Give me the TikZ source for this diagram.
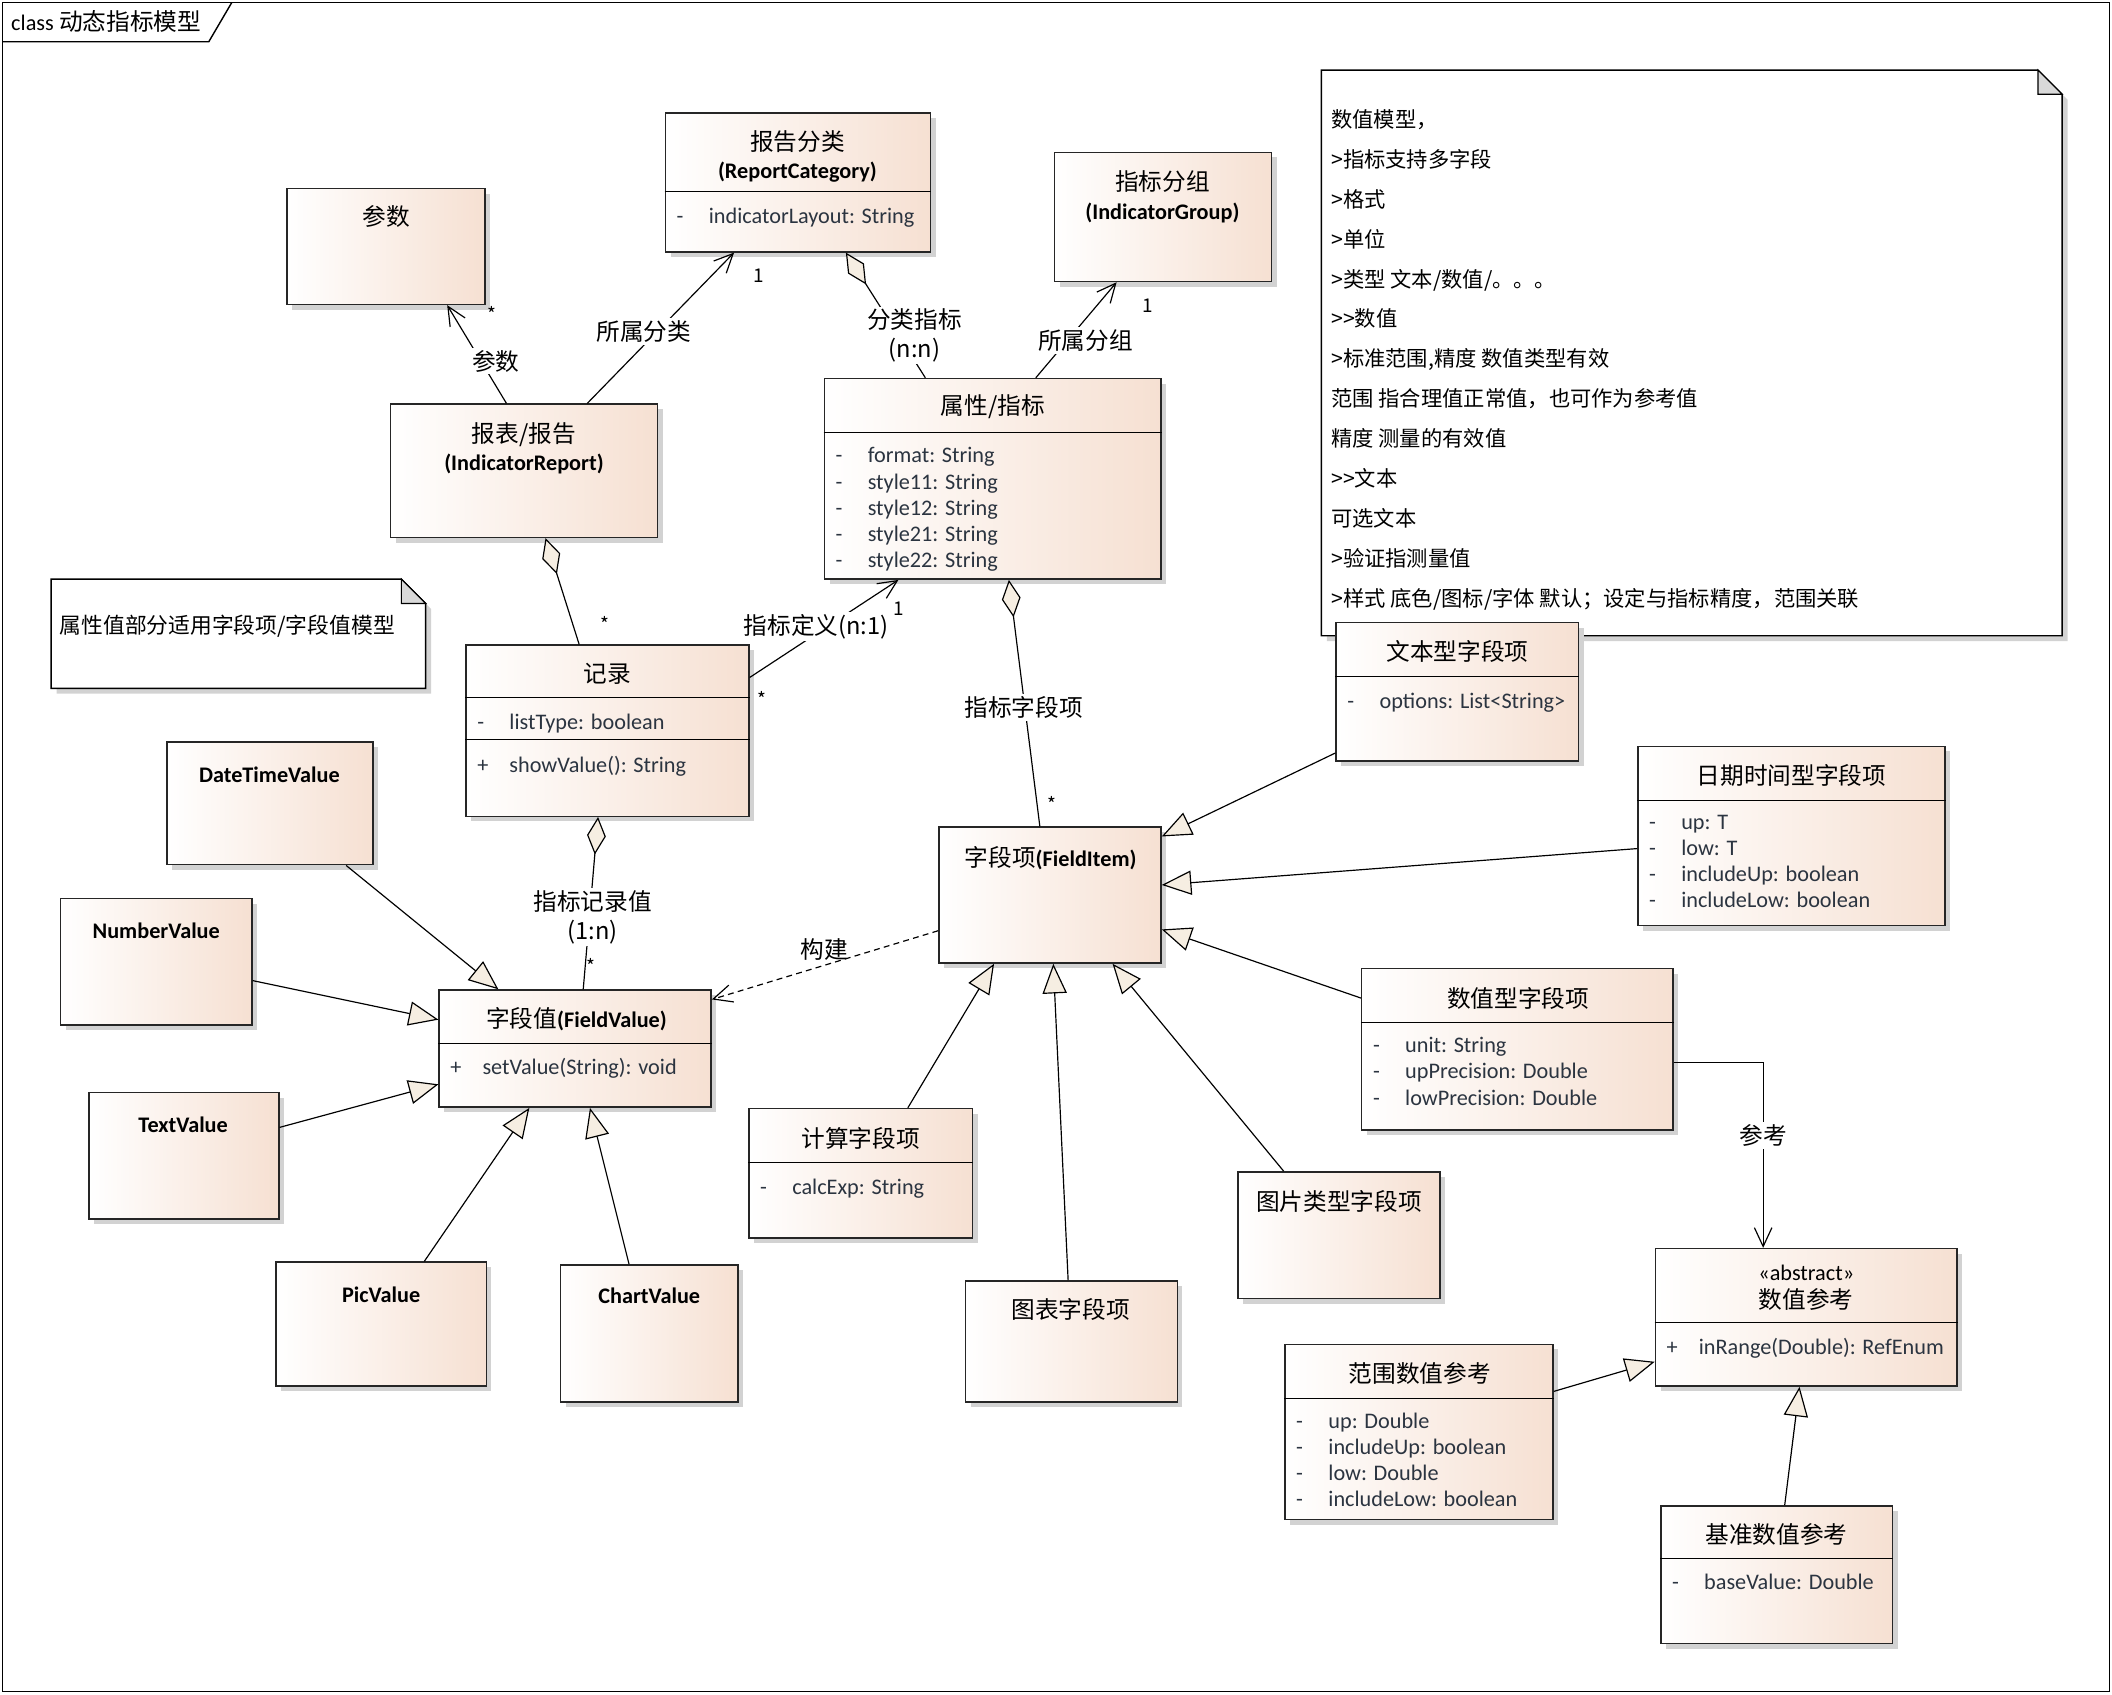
\documentclass[tikz,border=0pt]{standalone}
\usepackage{fontspec}
\setmainfont{Noto Sans CJK SC}
\newfontfamily\lat{Carlito}
\usetikzlibrary{
  arrows.meta,
  fit,
  shadows
}
\definecolor{boxpeach}{HTML}{F6E0D2}
\definecolor{tipcream}{HTML}{F6EEE2}
\definecolor{attrink}{HTML}{2B3440}
\definecolor{foldgray}{HTML}{D9D9D9}
\definecolor{shadowgray}{HTML}{D2D2D2}
\tikzset{
  class box/.style={draw=black!85,line width=.6pt,inner sep=0pt,
    left color=white,right color=boxpeach,
    drop shadow={shadow xshift=2.2pt,shadow yshift=-2.2pt,fill=shadowgray,opacity=1}},
  class title/.style={font=\fontsize{10}{12}\selectfont,align=center,inner sep=0pt},
  attr list/.style={font=\lat\fontsize{9.4}{11}\selectfont,text=attrink,
    align=left,anchor=north west,inner sep=0pt},
  link label/.style={font=\fontsize{10}{12}\selectfont,fill=white,inner sep=1pt,align=center},
  mult/.style={font=\fontsize{8}{9}\selectfont,inner sep=0pt},
  note text/.style={font=\fontsize{9}{16.85}\selectfont,align=left,inner sep=0pt},
  assoc/.style={-{Straight Barb[length=.28cm,width=.26cm]},line width=.5pt},
  aggreg/.style={{Diamond[length=.56cm,width=.28cm,fill=tipcream]}-,line width=.5pt},
  inherit/.style={-{Triangle[length=.44cm,width=.36cm,fill=tipcream]},line width=.5pt},
  depend/.style={-{Straight Barb[length=.28cm,width=.26cm]},
    dash pattern=on 2.5pt off 1.8pt,line width=.5pt}
}
\newcommand\vis[1]{\makebox[13.6pt][l]{#1}}
\newcommand\cls[1]{{\lat\bfseries\fontsize{9.4}{12}\selectfont #1}}

\begin{document}
\begin{tikzpicture}[x=0.02cm,y=-0.02cm]
  \useasboundingbox (0,0) rectangle (1568,1258);
  \draw[line width=.6pt] (2,2) rectangle (1566,1256);
  \draw[line width=.6pt] (2,31) -- (155,31) -- (172,2);
  \node[anchor=west,inner sep=0pt,font=\fontsize{10}{12}\selectfont] (frametitle) at (8,16)
    {{\lat\fontsize{9.4}{11}\selectfont class} 动态指标模型};

  % notes
  \fill[shadowgray] (985,56) -- (1517,56) -- (1535,74) -- (1535,476) -- (985,476) -- cycle;
  \draw[fill=white,line width=.6pt] (981,52) -- (1513,52) -- (1531,70) -- (1531,472) -- (981,472) -- cycle;
  \draw[fill=foldgray,line width=.5pt] (1513,52) -- (1513,70) -- (1531,70) -- cycle;
  \node[note text,anchor=north west] (modelnote) at (988,81) {数值模型，\\
    >指标支持多字段\\>格式\\>单位\\>类型 文本/数值/。。。\\>\kern0pt>数值\\
    >标准范围,精度 数值类型有效\\范围 指合理值正常值，也可作为参考值\\
    精度 测量的有效值\\>\kern0pt>文本\\可选文本\\>验证指测量值\\
    >样式 底色/图标/字体 默认；设定与指标精度，范围关联};

  \fill[shadowgray] (42,434) -- (302,434) -- (320,452) -- (320,515) -- (42,515) -- cycle;
  \draw[fill=white,line width=.6pt] (38,430) -- (298,430) -- (316,448) -- (316,511) -- (38,511) -- cycle;
  \draw[fill=foldgray,line width=.5pt] (298,430) -- (298,448) -- (316,448) -- cycle;
  \node[note text,anchor=west,font=\fontsize{9.2}{11}\selectfont] (valuenote) at (44,465)
    {属性值部分适用字段项/字段值模型};

  % classes
  \node[class box,fit={(213,140) (360,226)}] (canshu) {};
  \node[class title] (canshu-t) at (287,161) {参数};

  \node[class box,fit={(494,84) (691,187)}] (reportcat) {};
  \node[class title] (reportcat-t) at (592,116) {报告分类\\\cls{(ReportCategory)}};
  \draw[line width=.5pt] (reportcat.west |- 0,142) -- (reportcat.east |- 0,142);
  \node[attr list] (reportcat-a) at (502,154) {\vis{-}indicatorLayout: String};

  \node[class box,fit={(783,113) (944,209)}] (group) {};
  \node[class title] (group-t) at (863,146) {指标分组\\\cls{(IndicatorGroup)}};

  \node[class box,fit={(612,281) (862,430)}] (indicator) {};
  \node[class title] (indicator-t) at (737,302) {属性/指标};
  \draw[line width=.5pt] (indicator.west |- 0,321) -- (indicator.east |- 0,321);
  \node[attr list] (indicator-a) at (620,332) {\vis{-}format: String\\\vis{-}style11: String\\
    \vis{-}style12: String\\\vis{-}style21: String\\\vis{-}style22: String};

  \node[class box,fit={(290,300) (488,399)}] (report) {};
  \node[class title] (report-t) at (389,333) {报表/报告\\\cls{(IndicatorReport)}};

  \node[class box,fit={(346,479) (556,606)}] (record) {};
  \node[class title] (record-t) at (451,500) {记录};
  \draw[line width=.5pt] (record.west |- 0,518) -- (record.east |- 0,518);
  \draw[line width=.5pt] (record.west |- 0,549) -- (record.east |- 0,549);
  \node[attr list] (record-a) at (354,530) {\vis{-}listType: boolean};
  \node[attr list] (record-o) at (354,561) {\vis{+}showValue(): String};

  \node[class box,fit={(124,551) (277,642)}] (datetimeval) {};
  \node[class title] (datetimeval-t) at (200,575) {\cls{DateTimeValue}};
  \node[class box,fit={(45,667) (187,761)}] (numberval) {};
  \node[class title] (numberval-t) at (116,691) {\cls{NumberValue}};
  \node[class box,fit={(66,811) (207,905)}] (textval) {};
  \node[class title] (textval-t) at (136,835) {\cls{TextValue}};
  \node[class box,fit={(205,937) (361,1029)}] (picval) {};
  \node[class title] (picval-t) at (283,961) {\cls{PicValue}};
  \node[class box,fit={(416,939) (548,1041)}] (chartval) {};
  \node[class title] (chartval-t) at (482,962) {\cls{ChartValue}};

  \node[class box,fit={(326,735) (528,822)}] (fieldvalue) {};
  \node[class title] (fieldvalue-t) at (428,757) {字段值\cls{(FieldValue)}};
  \draw[line width=.5pt] (fieldvalue.west |- 0,775) -- (fieldvalue.east |- 0,775);
  \node[attr list] (fieldvalue-o) at (334,785) {\vis{+}setValue(String): void};

  \node[class box,fit={(697,614) (862,715)}] (fielditem) {};
  \node[class title] (fielditem-t) at (780,637) {字段项\cls{(FieldItem)}};

  \node[class box,fit={(556,823) (722,919)}] (calcitem) {};
  \node[class title] (calcitem-t) at (639,845) {计算字段项};
  \draw[line width=.5pt] (calcitem.west |- 0,863) -- (calcitem.east |- 0,863);
  \node[attr list] (calcitem-a) at (564,875) {\vis{-}calcExp: String};

  \node[class box,fit={(717,951) (874,1041)}] (chartitem) {};
  \node[class title] (chartitem-t) at (795,972) {图表字段项};
  \node[class box,fit={(919,870) (1069,964)}] (picitem) {};
  \node[class title] (picitem-t) at (994,892) {图片类型字段项};

  \node[class box,fit={(992,462) (1172,565)}] (textitem) {};
  \node[class title] (textitem-t) at (1082,484) {文本型字段项};
  \draw[line width=.5pt] (textitem.west |- 0,502) -- (textitem.east |- 0,502);
  \node[attr list] (textitem-a) at (1000,514) {\vis{-}options: List<String>};

  \node[class box,fit={(1216,554) (1444,687)}] (dtitem) {};
  \node[class title] (dtitem-t) at (1330,576) {日期时间型字段项};
  \draw[line width=.5pt] (dtitem.west |- 0,594) -- (dtitem.east |- 0,594);
  \node[attr list] (dtitem-a) at (1224,605) {\vis{-}up: T\\\vis{-}low: T\\
    \vis{-}includeUp: boolean\\\vis{-}includeLow: boolean};

  \node[class box,fit={(1011,719) (1242,839)}] (numitem) {};
  \node[class title] (numitem-t) at (1127,741) {数值型字段项};
  \draw[line width=.5pt] (numitem.west |- 0,759) -- (numitem.east |- 0,759);
  \node[attr list] (numitem-a) at (1019,770) {\vis{-}unit: String\\
    \vis{-}upPrecision: Double\\\vis{-}lowPrecision: Double};

  \node[class box,fit={(1229,927) (1453,1029)}] (numref) {};
  \node[class title] (numref-t) at (1341,956) {{\lat\fontsize{9.4}{11}\selectfont «abstract»}\\数值参考};
  \draw[line width=.5pt] (numref.west |- 0,982) -- (numref.east |- 0,982);
  \node[attr list] (numref-o) at (1237,993) {\vis{+}inRange(Double): RefEnum};

  \node[class box,fit={(954,998) (1153,1128)}] (rangeref) {};
  \node[class title] (rangeref-t) at (1054,1020) {范围数值参考};
  \draw[line width=.5pt] (rangeref.west |- 0,1038) -- (rangeref.east |- 0,1038);
  \node[attr list] (rangeref-a) at (962,1049) {\vis{-}up: Double\\\vis{-}includeUp: boolean\\
    \vis{-}low: Double\\\vis{-}includeLow: boolean};

  \node[class box,fit={(1233,1118) (1405,1220)}] (baseref) {};
  \node[class title] (baseref-t) at (1319,1139) {基准数值参考};
  \draw[line width=.5pt] (baseref.west |- 0,1157) -- (baseref.east |- 0,1157);
  \node[attr list] (baseref-a) at (1241,1168) {\vis{-}baseValue: Double};

  % associations and aggregations
  \draw[assoc] (report.north -| 376,0) -- (canshu.south -| 332,0);
  \draw[assoc] (report.north -| 436,0) -- (reportcat.south -| 545,0);
  \draw[aggreg] (reportcat.south -| 628,0) -- (indicator.north -| 687,0);
  \draw[assoc] (indicator.north -| 769,0) -- (group.south -| 829,0);
  \draw[aggreg] (report.south -| 405,0) -- (record.north -| 430,0);
  \draw[assoc] (record.east |- 0,503) -- (indicator.south -| 667,0);
  \draw[aggreg] (indicator.south -| 749,0) -- (fielditem.north -| 772,0);
  \draw[aggreg] (record.south -| 444,0) -- (fieldvalue.north -| 433,0);
  \draw[depend] (fielditem.west |- 0,691) -- (fieldvalue.east |- 0,742);
  \draw[assoc] (numitem.east |- 0,789) -| (numref.north -| 1309,0);

  % generalizations
  \draw[inherit] (datetimeval.south -| 257,0) -- (fieldvalue.north -| 370,0);
  \draw[inherit] (numberval.east |- 0,728) -- (fieldvalue.west |- 0,757);
  \draw[inherit] (textval.east |- 0,837) -- (fieldvalue.west |- 0,805);
  \draw[inherit] (picval.north -| 315,0) -- (fieldvalue.south -| 393,0);
  \draw[inherit] (chartval.north -| 467,0) -- (fieldvalue.south -| 438,0);
  \draw[inherit] (textitem.west |- 0,559) -- (fielditem.east |- 0,621);
  \draw[inherit] (dtitem.west |- 0,630) -- (fielditem.east |- 0,657);
  \draw[inherit] (numitem.west |- 0,741) -- (fielditem.east |- 0,690);
  \draw[inherit] (calcitem.north -| 674,0) -- (fielditem.south -| 738,0);
  \draw[inherit] (chartitem.north -| 793,0) -- (fielditem.south -| 782,0);
  \draw[inherit] (picitem.north -| 953,0) -- (fielditem.south -| 826,0);
  \draw[inherit] (rangeref.east |- 0,1033) -- (numref.west |- 0,1011);
  \draw[inherit] (baseref.north -| 1325,0) -- (numref.south -| 1336,0);

  % link labels
  \node[link label] (lbl-canshu) at (368,268) {参数};
  \node[link label] (lbl-cat) at (478,246) {所属分类};
  \node[link label] (lbl-catind) at (679,249) {分类指标\\(n:n)};
  \node[link label] (lbl-group) at (806,253) {所属分组};
  \node[link label] (lbl-def) at (606,465) {指标定义(n:1)};
  \node[link label] (lbl-items) at (760,525) {指标字段项};
  \node[link label] (lbl-values) at (440,681) {指标记录值\\(1:n)};
  \node[link label,fill=none] (lbl-build) at (612,705) {构建};
  \node[link label] (lbl-ref) at (1309,843) {参考};

  \node[mult] (m-canshu) at (365,233) {*};
  \node[mult] (m-cat) at (563,205) {1};
  \node[mult] (m-group) at (852,227) {1};
  \node[mult] (m-record) at (449,463) {*};
  \node[mult] (m-def1) at (667,452) {1};
  \node[mult] (m-defn) at (566,519) {*};
  \node[mult] (m-items) at (781,597) {*};
  \node[mult] (m-values) at (439,717) {*};
\end{tikzpicture}
\end{document}
